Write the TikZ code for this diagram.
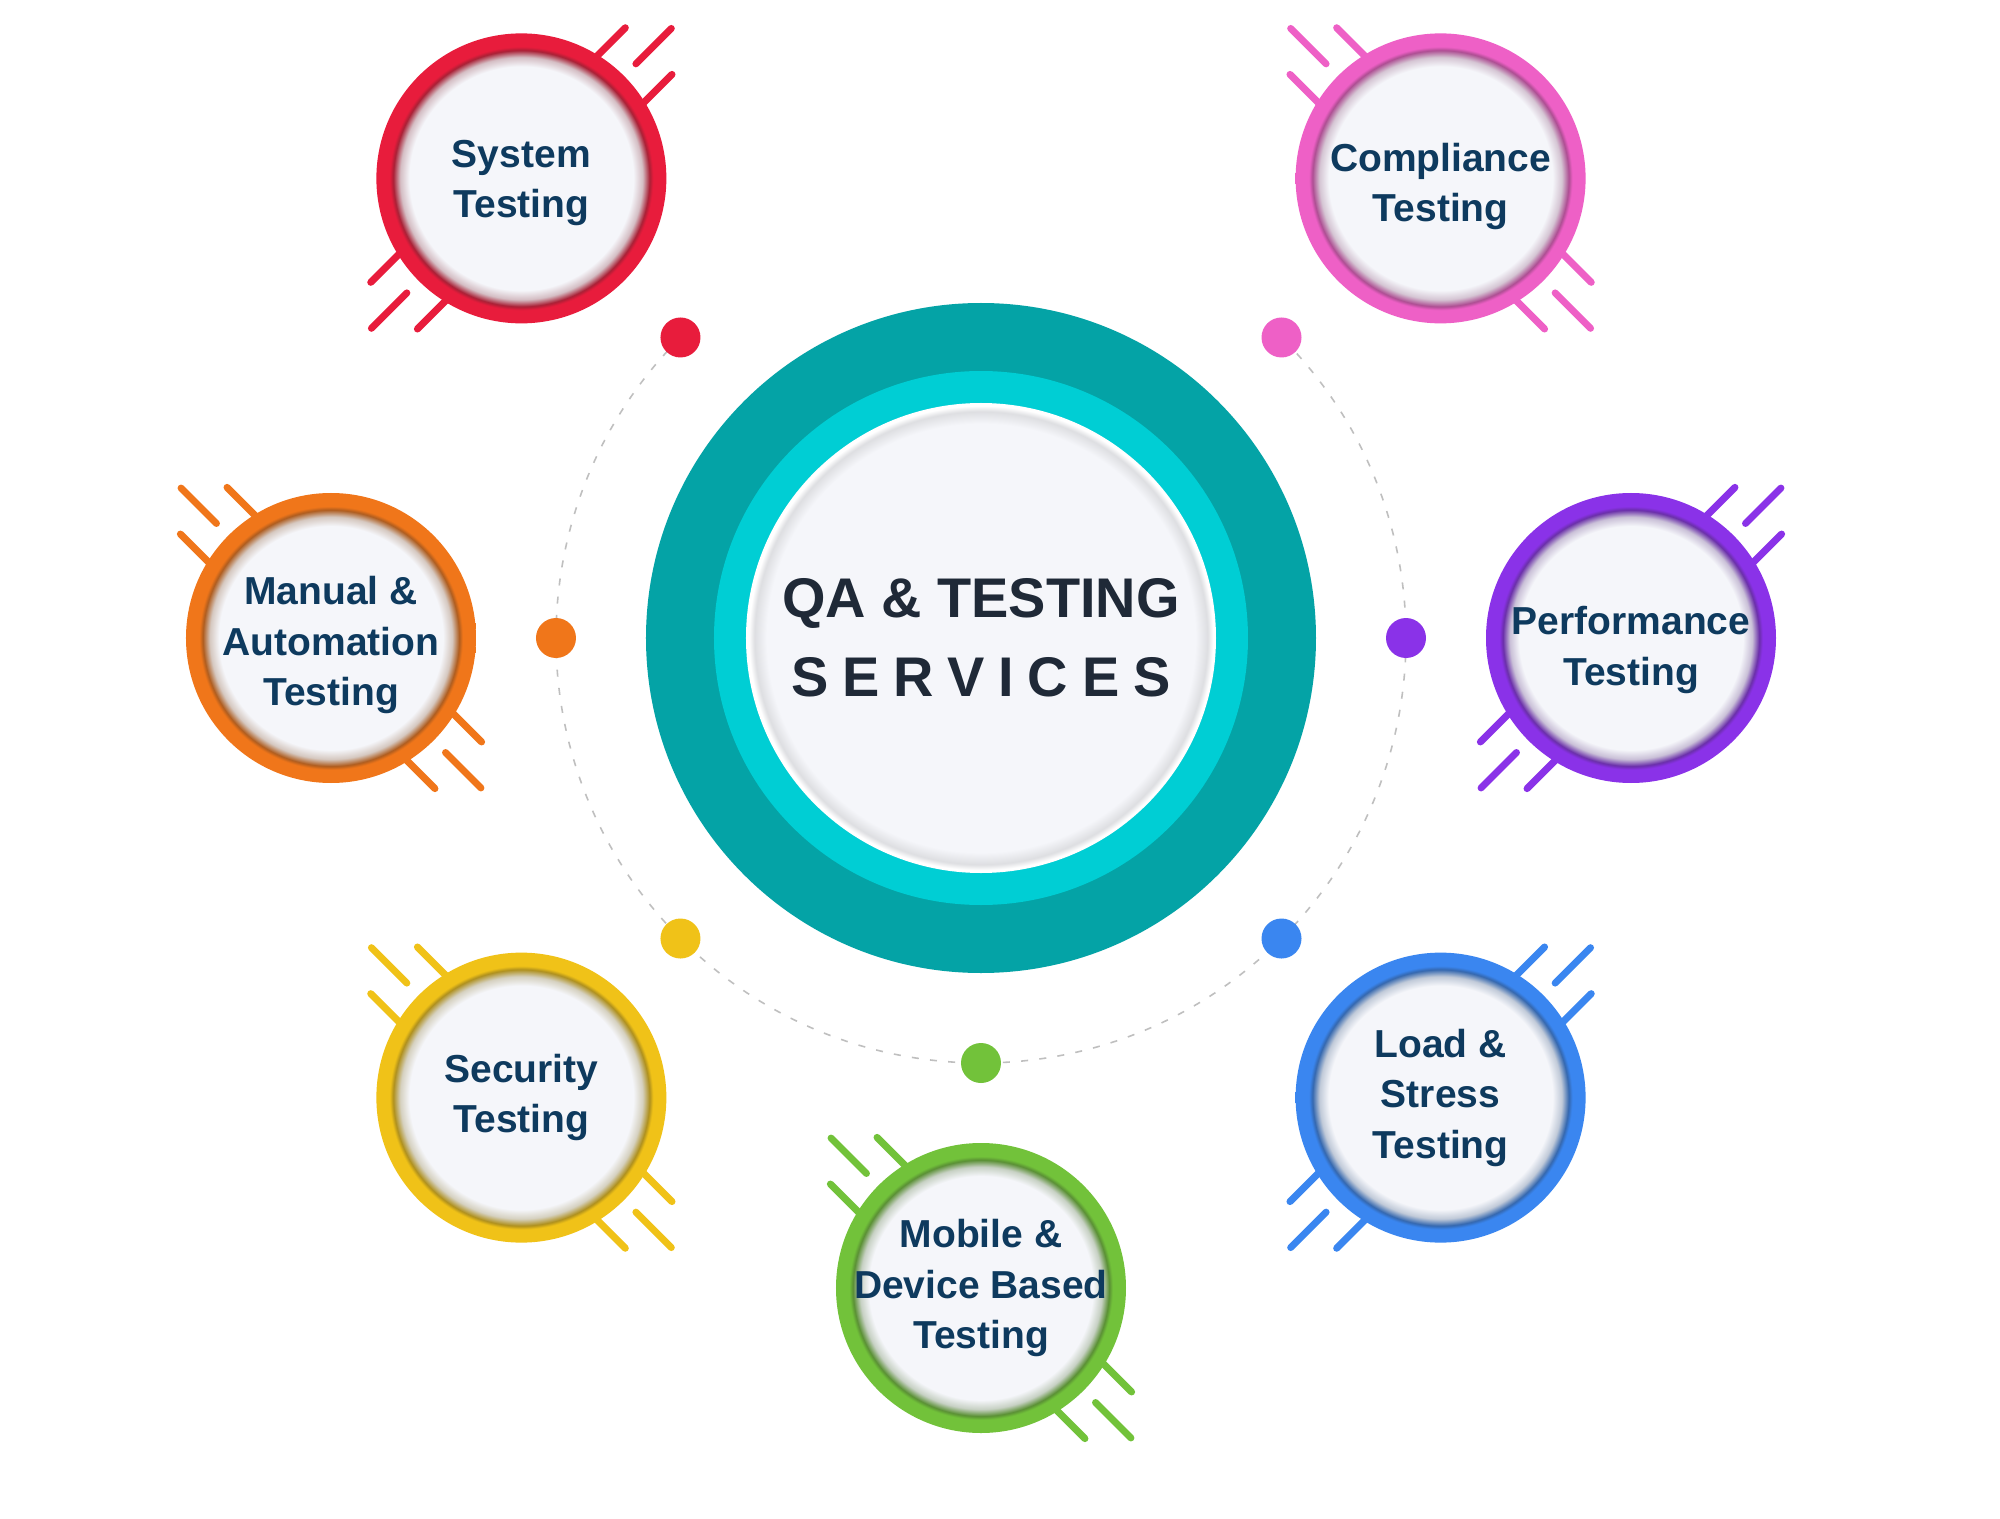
\documentclass[tikz,border=0pt]{standalone}
\usepackage{fontspec}
\setmainfont{Liberation Sans}

\definecolor{sysred}{RGB}{232,28,60}
\definecolor{comppink}{RGB}{238,96,198}
\definecolor{manorange}{RGB}{240,118,26}
\definecolor{perfpurple}{RGB}{138,50,232}
\definecolor{secyellow}{RGB}{240,194,24}
\definecolor{loadblue}{RGB}{58,134,240}
\definecolor{mobgreen}{RGB}{114,194,58}
\definecolor{qateal}{RGB}{4,163,166}
\definecolor{qacyan}{RGB}{0,206,212}
\definecolor{paper}{RGB}{245,246,250}
\definecolor{navy}{RGB}{14,58,94}
\definecolor{ink}{RGB}{31,41,55}
\colorlet{ringcol}{sysred}

\pgfdeclareradialshading[ringcol]{satglow}{\pgfpoint{0bp}{0bp}}{%
  color(0bp)=(paper); color(19.3bp)=(paper);
  color(20.9bp)=(ringcol!30!gray!38!paper);
  color(22.1bp)=(ringcol!75!black!90!gray);
  color(22.7bp)=(ringcol); color(25bp)=(ringcol); color(50bp)=(ringcol)}
\pgfdeclareradialshading{qaglow}{\pgfpoint{0bp}{0bp}}{%
  color(0bp)=(paper); color(22.8bp)=(paper);
  color(24.1bp)=(gray!20!paper); color(24.7bp)=(white);
  color(25bp)=(white); color(50bp)=(white)}

\tikzset{
  ring/.code={\colorlet{ringcol}{#1}},
  satring/.style={circle, minimum size=2.9cm, inner sep=0pt, shading=satglow},
  sattext/.style={align=center, text=navy, font=\fontsize{11.1}{14.4}\selectfont\bfseries},
  dot/.style={circle, inner sep=0pt, minimum size=0.4cm},
  stripe/.style={line width=2pt, line cap=round},
  track/.style={gray!50, line width=0.45pt, dash pattern=on 2pt off 3.2pt},
  stripes/.pic={
    \draw[stripe] (1.62,0) -- (2.12,0);
    \draw[stripe] (1.20,0.33) -- (1.80,0.33);
    \draw[stripe] (1.20,-0.33) -- (1.80,-0.33);
    \draw[stripe] (-1.62,0) -- (-2.12,0);
    \draw[stripe] (-1.20,0.33) -- (-1.80,0.33);
    \draw[stripe] (-1.20,-0.33) -- (-1.80,-0.33);
  },
}

\begin{document}
\begin{tikzpicture}

	\path[use as bounding box, fill=white] (-9.81,-8.80) rectangle (10.19,6.38);

	% dashed track with the dots
	\draw[track] (135:4.25) arc[start angle=135, end angle=405, radius=4.25];
	\node[dot, fill=sysred] (dsys) at (135:4.25) {};
	\node[dot, fill=comppink] (dcomp) at (45:4.25) {};
	\node[dot, fill=manorange] (dman) at (180:4.25) {};
	\node[dot, fill=perfpurple] (dperf) at (0:4.25) {};
	\node[dot, fill=secyellow] (dsec) at (225:4.25) {};
	\node[dot, fill=loadblue] (dload) at (315:4.25) {};
	\node[dot, fill=mobgreen] (dmob) at (270:4.25) {};

	% centre
	\fill[qateal] (0,0) circle (3.35);
	\fill[qacyan] (0,0) circle (2.67);
	\shade[shading=qaglow] (0,0) circle (2.35);
	\node[align=center, text=ink, font=\fontsize{15.9}{22.5}\selectfont\bfseries] (qa) at (0,0)
	{QA \& TESTING\\\addfontfeatures{LetterSpace=25}SERVICES};

	% satellites
	\pic[sysred, rotate=45] at (135:6.5) {stripes};
	\node[satring, ring=sysred] (sys) at (135:6.5) {};
	\node[sattext] (systxt) at ([yshift=-0.045cm]sys.center) {System\\Testing};

	\pic[comppink, rotate=135] at (45:6.5) {stripes};
	\node[satring, ring=comppink] (comp) at (45:6.5) {};
	\node[sattext] (comptxt) at ([yshift=-0.08cm]comp.center) {Compliance\\Testing};

	\pic[manorange, rotate=135] at (180:6.5) {stripes};
	\node[satring, ring=manorange] (man) at (180:6.5) {};
	\node[sattext] (mantxt) at ([yshift=-0.07cm]man.center) {Manual \&\\Automation\\Testing};

	\pic[perfpurple, rotate=45] at (0:6.5) {stripes};
	\node[satring, ring=perfpurple] (perf) at (0:6.5) {};
	\node[sattext] (perftxt) at ([yshift=-0.12cm]perf.center) {Performance\\Testing};

	\pic[secyellow, rotate=135] at (225:6.5) {stripes};
	\node[satring, ring=secyellow] (sec) at (225:6.5) {};
	\node[sattext] (sectxt) at (sec.center) {Security\\Testing};

	\pic[loadblue, rotate=45] at (315:6.5) {stripes};
	\node[satring, ring=loadblue] (load) at (315:6.5) {};
	\node[sattext] (loadtxt) at (load.center) {Load \&\\Stress\\Testing};

	\pic[mobgreen, rotate=135] at (270:6.5) {stripes};
	\node[satring, ring=mobgreen] (mob) at (270:6.5) {};
	\node[sattext] (mobtxt) at (mob.center) {Mobile \&\\Device Based\\Testing};

\end{tikzpicture}
\end{document}
